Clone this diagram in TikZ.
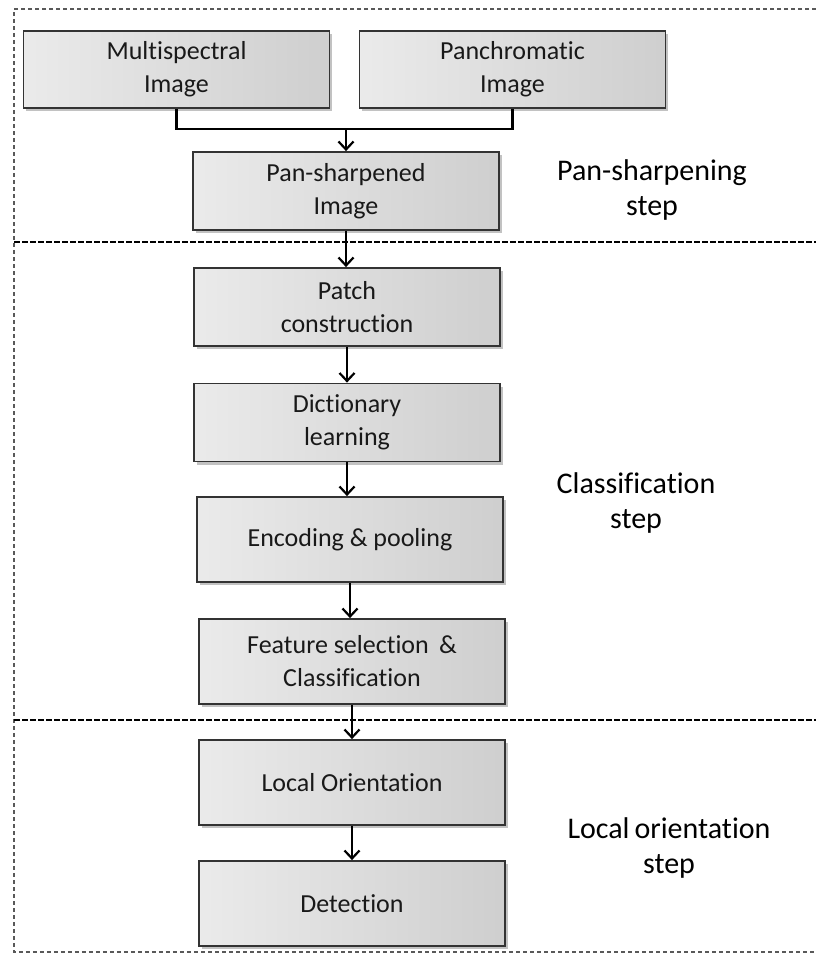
\documentclass[tikz,border=0pt]{standalone}
\usepackage{fontspec}
\setmainfont{Carlito}[Ligatures=NoCommon]
\usetikzlibrary{arrows.meta,shadows}
\begin{document}
\begin{tikzpicture}[x=1pt,y=-1pt,
  procbox/.style={draw=black!80, line width=1.8pt, left color=black!8, right color=black!19,
    minimum width=306pt, inner sep=0pt, align=center, text=black!90,
    font=\fontsize{26}{33}\selectfont,
    drop shadow={shadow xshift=2.5pt, shadow yshift=-3pt, opacity=0.4, fill=black!60}},
  steplabel/.style={align=center, text=black, font=\fontsize{30}{35}\selectfont},
  flow/.style={line width=2.2pt, -{Straight Barb[length=8pt,width=15pt,line width=2.2pt]}},
  joinline/.style={line width=2.2pt},
  divider/.style={line width=2.4pt, dash pattern=on 6pt off 2pt},
  frame/.style={line width=1.2pt, draw=black!65, dash pattern=on 4pt off 3pt}]
\useasboundingbox (0,0) rectangle (816,956);

% outer frame (open on the right)
\draw[frame] (816,9) -- (14,9) -- (14,952) -- (816,952);

% section dividers
\draw[divider] (14,242) -- (816,242);
\draw[divider] (14,720) -- (816,720);

% process boxes
\node[procbox, minimum height=77pt] (ms)    at (176.5,69.5) {Multispectral\\Image};
\node[procbox, minimum height=77pt] (pan)   at (512.5,69.5) {Panchromatic\\Image};
\node[procbox, minimum height=78pt] (ps)    at (346,191)    {Pan-sharpened\\Image};
\node[procbox, minimum height=78pt] (patch) at (347,307)    {Patch\\construction};
\node[procbox, minimum height=78pt] (dict)  at (347,422.5)  {Dictionary\\learning};
\node[procbox, minimum height=85pt] (enc)   at (350,539.5)  {Encoding \& pooling};
\node[procbox, minimum height=85pt] (feat)  at (352,661.5)  {Feature selection \,\&\\Classification};
\node[procbox, minimum height=85pt] (lo)    at (352,782.5)  {Local Orientation};
\node[procbox, minimum height=85pt] (det)   at (352,903.5)  {Detection};

% step labels
\node[steplabel] (l1) at (652,189.5) {Pan-sharpening\\step};
\node[steplabel] (l2) at (636,502.5) {Classification\\step};
\node[steplabel] (l3) at (669,848)   {Local\,orientation\\step};

% connectors
\coordinate (j) at (346,129);
\draw[joinline] (ms.south) |- (j) -| (pan.south);
\draw[flow] (j) -- (ps.north);
\draw[flow] (ps.south) -- (ps.south |- patch.north);
\draw[flow] (patch.south) -- (patch.south |- dict.north);
\draw[flow] (dict.south) -- (dict.south |- enc.north);
\draw[flow] (enc.south) -- (enc.south |- feat.north);
\draw[flow] (feat.south) -- (feat.south |- lo.north);
\draw[flow] (lo.south) -- (lo.south |- det.north);
\end{tikzpicture}
\end{document}
